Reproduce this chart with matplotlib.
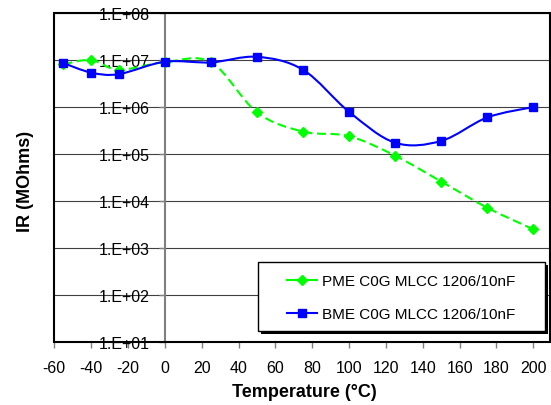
import numpy as np
import matplotlib
matplotlib.use('Agg')
import matplotlib.pyplot as plt
from matplotlib.path import Path
from matplotlib.patches import PathPatch, Rectangle
from matplotlib.lines import Line2D
import matplotlib.ticker as ticker

plt.rcParams['font.family'] = ['Liberation Sans', 'DejaVu Sans']
plt.rcParams['axes.unicode_minus'] = False

# data
temps = [-55, -40, -25, 0, 25, 50, 75, 100, 125, 150, 175, 200]
pme = [8.1e6, 1.0e7, 6.2e6, 9.0e6, 9.0e6, 7.7e5, 3.0e5, 2.4e5, 9.2e4, 2.6e4, 7.2e3, 2.5e3]
bme = [8.6e6, 5.4e6, 5.0e6, 9.2e6, 8.9e6, 1.17e7, 6.2e6, 7.9e5, 1.74e5, 1.9e5, 6.0e5, 1.0e6]
labels = ['PME C0G MLCC 1206/10nF', 'BME C0G MLCC 1206/10nF']
xticks = list(range(-60, 201, 20))
yticks = [1e1, 1e2, 1e3, 1e4, 1e5, 1e6, 1e7, 1e8]


def smooth_path(x, y):
    # Excel style smoothed line: cubic bezier between points, built in log space
    x = np.asarray(x, float)
    ly = np.log10(np.asarray(y, float))
    pts = np.column_stack([x, ly])
    n = len(pts)
    verts = [pts[0]]
    codes = [Path.MOVETO]
    for i in range(n - 1):
        p0 = pts[max(i - 1, 0)]
        p1 = pts[i]
        p2 = pts[i + 1]
        p3 = pts[min(i + 2, n - 1)]
        c1 = p1 + (p2 - p0) / 6.0
        c2 = p2 - (p3 - p1) / 6.0
        verts += [c1, c2, p2]
        codes += [Path.CURVE4] * 3
    verts = np.array(verts)
    verts[:, 1] = 10 ** verts[:, 1]
    return Path(verts, codes)


fig = plt.figure(figsize=(5.51, 4.06), dpi=100)
ax = fig.add_axes([0.0985, 0.155, 0.8995, 0.8105])
ax.set_yscale('log')
ax.set_xlim(-60, 209)
ax.set_ylim(1e1, 1e8)

for yv in yticks:
    ax.axhline(yv, color='#404040', lw=0.8, zorder=1)

green = '#00ff00'
blue = '#0000ff'

ax.add_patch(PathPatch(smooth_path(temps, pme), fill=False, edgecolor=green,
                       lw=1.5, linestyle=(0, (4.3, 2.2)), zorder=3))
ax.plot(temps, pme, linestyle='none', marker='D', ms=5, color=green, zorder=4)
ax.add_patch(PathPatch(smooth_path(temps, bme), fill=False, edgecolor=blue,
                       lw=1.5, zorder=5))
ax.plot(temps, bme, linestyle='none', marker='s', ms=5.5, color=blue, zorder=6)

# axis spines: y axis sits at x = 0, frame drawn separately
ax.spines['left'].set_position(('data', 0))
ax.spines['left'].set_color('#808080')
ax.spines['left'].set_linewidth(1.5)
ax.spines['left'].set_zorder(2)
for s in ['top', 'right', 'bottom']:
    ax.spines[s].set_visible(False)
ax.add_patch(Rectangle((0, 0), 1, 1, transform=ax.transAxes, fill=False,
                       edgecolor='black', lw=1.5, clip_on=False, zorder=7))

ax.set_xticks(xticks)
ax.set_yticks(yticks)
ax.yaxis.set_minor_locator(ticker.NullLocator())
ax.yaxis.set_major_formatter(ticker.FuncFormatter(lambda v, p: '1.E+%02d' % int(round(np.log10(v)))))
ax.tick_params(axis='y', direction='out', length=4, width=1, color='#808080',
               pad=7, labelsize=11.5)
ax.tick_params(axis='x', direction='out', length=4, width=1, color='#808080',
               pad=9, labelsize=11.5)

ax.set_xlabel('Temperature (°C)', fontsize=13, fontweight='bold')
ax.xaxis.set_label_coords(0.505, -0.125)
fig.text(25 / 551, 1 - 181 / 406, 'IR (MOhms)', rotation=90, fontsize=13,
         fontweight='bold', ha='center', va='center')

# legend box with shadow
bx0, by0, bx1, by1 = 258, 263, 545, 332
W, H = 551, 406
fig.patches.append(Rectangle((bx0 / W + 3 / W, 1 - by1 / H - 3 / H), (bx1 - bx0) / W, (by1 - by0) / H,
                             transform=fig.transFigure, facecolor='black', edgecolor='none', zorder=8))
fig.patches.append(Rectangle((bx0 / W, 1 - by1 / H), (bx1 - bx0) / W, (by1 - by0) / H,
                             transform=fig.transFigure, facecolor='white', edgecolor='black', lw=1, zorder=9))
handles = [Line2D([], [], color=green, lw=1.5, marker='D', ms=5),
           Line2D([], [], color=blue, lw=1.5, marker='s', ms=5.5)]
leg = fig.legend(handles, labels, loc='center', bbox_to_anchor=(401 / W, 1 - 298.5 / H),
                 frameon=False, fontsize=11, handlelength=2.0, handletextpad=0.3,
                 labelspacing=1.25, borderpad=0)
leg.set_zorder(10)

fig.savefig('out.png', dpi=100)
